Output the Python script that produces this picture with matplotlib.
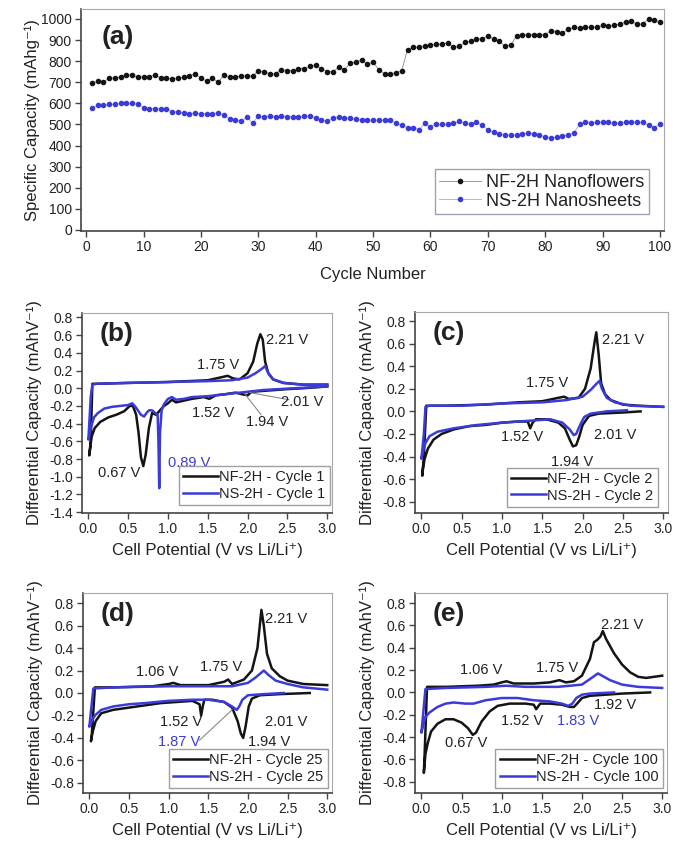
import matplotlib
matplotlib.use('Agg')
import matplotlib.pyplot as plt
from matplotlib.ticker import MultipleLocator, FormatStrFormatter

plt.rcParams['font.family'] = ['Liberation Sans', 'DejaVu Sans']
plt.rcParams['axes.unicode_minus'] = False

# ---- panel (a): cycling data ----
cycles = list(range(1, 101))
nf_cap = [695, 705, 700, 720, 720, 725, 735, 735, 725, 725,
          725, 735, 720, 720, 715, 720, 725, 730, 740, 720,
          705, 720, 700, 735, 725, 725, 730, 730, 730, 755,
          750, 740, 740, 760, 755, 755, 765, 765, 775, 780,
          765, 750, 750, 770, 760, 790, 795, 805, 785, 795,
          760, 740, 740, 745, 755, 855, 865, 865, 870, 875,
          880, 880, 885, 865, 870, 890, 895, 905, 905, 920,
          905, 895, 870, 875, 920, 925, 925, 925, 925, 925,
          945, 940, 935, 950, 960, 955, 960, 960, 960, 970,
          965, 970, 975, 985, 990, 975, 975, 1000, 995, 985]
ns_cap = [580, 590, 590, 595, 595, 600, 600, 600, 595, 580,
          575, 575, 575, 575, 560, 560, 555, 550, 555, 550,
          550, 550, 555, 545, 525, 520, 515, 535, 505, 540,
          535, 540, 535, 540, 535, 535, 535, 540, 540, 530,
          520, 515, 530, 535, 530, 530, 525, 520, 520, 520,
          520, 520, 520, 505, 495, 485, 485, 475, 505, 490,
          500, 500, 500, 505, 515, 505, 500, 510, 495, 475,
          465, 455, 450, 450, 450, 455, 460, 455, 450, 440,
          435, 440, 445, 450, 460, 500, 510, 505, 510, 510,
          510, 505, 505, 510, 510, 510, 510, 495, 485, 500]

# ---- panel (b): cycle 1 ----
b_nf_v = [3.00, 2.70, 2.50, 2.20, 2.05, 2.00, 1.94, 1.85, 1.70, 1.60, 1.52, 1.45,
          1.30, 1.20, 1.10, 1.05, 1.00, 0.95, 0.90, 0.85, 0.80, 0.76, 0.72, 0.69,
          0.66, 0.63, 0.60, 0.56, 0.52, 0.45, 0.35, 0.25, 0.15, 0.08, 0.04, 0.02,
          0.01, 0.03, 0.05, 0.10, 0.50, 1.00, 1.50, 1.70, 1.75, 1.82, 1.90, 2.00,
          2.07, 2.12, 2.16, 2.19, 2.22, 2.26, 2.32, 2.45, 2.70, 3.00]
b_nf_q = [0.02, 0.00, -0.01, -0.03, -0.04, -0.08, -0.07, -0.05, -0.07, -0.08, -0.12, -0.10,
          -0.12, -0.14, -0.16, -0.13, -0.17, -0.20, -0.25, -0.30, -0.28, -0.45, -0.75, -0.88,
          -0.78, -0.50, -0.30, -0.20, -0.20, -0.26, -0.30, -0.33, -0.38, -0.45, -0.55, -0.70,
          -0.76, -0.60, 0.05, 0.05, 0.06, 0.07, 0.09, 0.13, 0.14, 0.11, 0.10, 0.17,
          0.30, 0.50, 0.61, 0.55, 0.30, 0.17, 0.10, 0.06, 0.04, 0.04]
b_ns_v = [3.00, 2.60, 2.20, 2.00, 1.80, 1.50, 1.30, 1.20, 1.10, 1.05, 1.00, 0.95,
          0.92, 0.90, 0.89, 0.88, 0.87, 0.84, 0.80, 0.76, 0.73, 0.70, 0.66, 0.60,
          0.55, 0.50, 0.40, 0.30, 0.20, 0.12, 0.07, 0.03, 0.01, 0.00, 0.03, 0.05,
          0.10, 0.50, 1.00, 1.50, 1.80, 2.00, 2.10, 2.18, 2.22, 2.26, 2.32, 2.45,
          2.70, 3.00]
b_ns_q = [0.02, 0.00, -0.02, -0.04, -0.06, -0.09, -0.10, -0.12, -0.13, -0.10, -0.12, -0.18,
          -0.25, -0.50, -1.13, -0.60, -0.30, -0.28, -0.25, -0.25, -0.28, -0.32, -0.30, -0.22,
          -0.17, -0.19, -0.20, -0.21, -0.23, -0.28, -0.33, -0.45, -0.55, -0.58, -0.10, 0.04,
          0.05, 0.06, 0.07, 0.08, 0.09, 0.12, 0.17, 0.22, 0.25, 0.17, 0.10, 0.06,
          0.04, 0.04]

# ---- panel (c): cycle 2 ----
c_nf_v = [2.72, 2.50, 2.20, 2.08, 2.03, 2.00, 1.96, 1.92, 1.88, 1.84, 1.78, 1.70,
          1.55, 1.42, 1.38, 1.35, 1.32, 1.20, 1.00, 0.80, 0.60, 0.40, 0.25, 0.15,
          0.08, 0.04, 0.02, 0.01, 0.03, 0.06, 0.30, 0.80, 1.20, 1.50, 1.70, 1.77,
          1.83, 1.95, 2.03, 2.10, 2.15, 2.17, 2.20, 2.23, 2.28, 2.35, 2.50, 2.70,
          3.00]
c_nf_q = [0.00, -0.01, -0.02, -0.04, -0.09, -0.12, -0.22, -0.30, -0.31, -0.25, -0.15, -0.10,
          -0.07, -0.07, -0.10, -0.15, -0.09, -0.09, -0.10, -0.12, -0.13, -0.16, -0.20, -0.25,
          -0.33, -0.42, -0.50, -0.57, -0.40, 0.05, 0.05, 0.06, 0.08, 0.09, 0.12, 0.13,
          0.11, 0.12, 0.20, 0.38, 0.62, 0.70, 0.50, 0.25, 0.15, 0.10, 0.06, 0.05,
          0.04]
c_ns_v = [2.55, 2.30, 2.10, 2.02, 1.97, 1.92, 1.89, 1.84, 1.75, 1.60, 1.40, 1.20,
          1.00, 0.70, 0.40, 0.20, 0.10, 0.05, 0.02, 0.00, 0.03, 0.05, 0.10, 0.50,
          1.00, 1.50, 1.80, 2.00, 2.10, 2.18, 2.21, 2.24, 2.30, 2.40, 2.60, 3.00]
c_ns_q = [0.01, 0.00, -0.02, -0.05, -0.12, -0.20, -0.21, -0.16, -0.10, -0.07, -0.08, -0.09,
          -0.10, -0.12, -0.15, -0.18, -0.22, -0.28, -0.35, -0.42, -0.20, 0.04, 0.05, 0.05,
          0.07, 0.08, 0.10, 0.13, 0.19, 0.25, 0.27, 0.20, 0.12, 0.08, 0.05, 0.04]

# ---- panel (d): cycle 25 ----
d_nf_v = [2.78, 2.40, 2.15, 2.05, 2.01, 1.97, 1.94, 1.91, 1.87, 1.80, 1.70, 1.55,
          1.45, 1.43, 1.41, 1.39, 1.30, 1.10, 0.90, 0.70, 0.50, 0.30, 0.15, 0.08,
          0.04, 0.02, 0.03, 0.07, 0.30, 0.80, 1.00, 1.06, 1.15, 1.50, 1.70, 1.75,
          1.80, 1.95, 2.05, 2.12, 2.17, 2.20, 2.24, 2.30, 2.40, 2.50, 2.70, 3.00]
d_nf_q = [0.00, -0.01, -0.02, -0.05, -0.12, -0.30, -0.40, -0.36, -0.25, -0.13, -0.08, -0.06,
          -0.06, -0.12, -0.20, -0.10, -0.07, -0.08, -0.09, -0.11, -0.13, -0.15, -0.18, -0.25,
          -0.35, -0.43, -0.38, 0.05, 0.05, 0.06, 0.08, 0.09, 0.07, 0.07, 0.10, 0.12,
          0.08, 0.12, 0.20, 0.40, 0.74, 0.60, 0.35, 0.22, 0.15, 0.11, 0.08, 0.07]
d_ns_v = [2.45, 2.20, 2.00, 1.93, 1.89, 1.86, 1.80, 1.70, 1.50, 1.30, 1.00, 0.70,
          0.50, 0.30, 0.15, 0.07, 0.03, 0.00, 0.05, 0.30, 1.00, 1.50, 1.80, 2.00,
          2.10, 2.20, 2.26, 2.35, 2.50, 2.70, 3.00]
d_ns_q = [0.00, -0.01, -0.02, -0.06, -0.12, -0.15, -0.12, -0.08, -0.06, -0.06, -0.07, -0.09,
          -0.10, -0.12, -0.15, -0.20, -0.25, -0.30, 0.04, 0.05, 0.06, 0.06, 0.06, 0.09,
          0.14, 0.20, 0.16, 0.11, 0.08, 0.05, 0.03]

# ---- panel (e): cycle 100 ----
e_nf_v = [2.85, 2.50, 2.10, 2.00, 1.94, 1.90, 1.85, 1.75, 1.60, 1.48, 1.45, 1.43,
          1.40, 1.30, 1.10, 0.95, 0.85, 0.75, 0.68, 0.64, 0.58, 0.50, 0.40, 0.30,
          0.20, 0.12, 0.08, 0.05, 0.03, 0.04, 0.07, 0.30, 0.70, 0.90, 1.00, 1.06,
          1.15, 1.40, 1.60, 1.72, 1.80, 1.90, 2.00, 2.10, 2.15, 2.19, 2.23, 2.26,
          2.30, 2.40, 2.50, 2.60, 2.70, 2.80, 2.90, 3.00]
e_nf_q = [0.00, -0.01, -0.03, -0.05, -0.10, -0.13, -0.13, -0.11, -0.10, -0.10, -0.13, -0.15,
          -0.11, -0.10, -0.10, -0.12, -0.17, -0.26, -0.36, -0.38, -0.32, -0.27, -0.24, -0.24,
          -0.28, -0.35, -0.45, -0.55, -0.72, -0.55, 0.05, 0.05, 0.06, 0.07, 0.09, 0.10,
          0.08, 0.08, 0.09, 0.11, 0.09, 0.10, 0.15, 0.30, 0.45, 0.47, 0.50, 0.55,
          0.48, 0.35, 0.25, 0.18, 0.14, 0.13, 0.14, 0.15]
e_ns_v = [2.40, 2.10, 2.00, 1.93, 1.88, 1.83, 1.75, 1.60, 1.40, 1.20, 1.00, 0.80,
          0.65, 0.55, 0.40, 0.30, 0.20, 0.10, 0.05, 0.02, 0.00, 0.05, 0.30, 0.80,
          1.06, 1.30, 1.70, 2.00, 2.10, 2.20, 2.25, 2.35, 2.50, 2.70, 3.00]
e_ns_q = [0.00, -0.01, -0.02, -0.05, -0.10, -0.12, -0.10, -0.08, -0.07, -0.05, -0.05, -0.07,
          -0.10, -0.10, -0.09, -0.10, -0.13, -0.18, -0.22, -0.30, -0.36, 0.03, 0.04, 0.05,
          0.06, 0.05, 0.05, 0.07, 0.12, 0.17, 0.15, 0.11, 0.07, 0.05, 0.04]

BLACK = '#141414'
BLUE = '#3b3bd9'
TXT = '#222222'


def style_axes(ax):
    for side in ['top', 'right']:
        ax.spines[side].set_color('#a8a8a8')
    for side in ['left', 'bottom']:
        ax.spines[side].set_color('#444444')
        ax.spines[side].set_linewidth(1.2)
    ax.tick_params(direction='out', length=4, width=1, colors='#444444',
                   labelcolor=TXT, labelsize=10, top=False, right=False, pad=2.5)


fig = plt.figure(figsize=(6.91, 8.61), dpi=100)

# panel (a)
ax = fig.add_axes([81/691, 1-231/861, 583/691, 222/861])
ax.plot(cycles, nf_cap, color='#8a8a8a', lw=0.6, marker='o', ms=3.0,
        mfc=BLACK, mec=BLACK, label='NF-2H Nanoflowers')
ax.plot(cycles, ns_cap, color='#a8a8d8', lw=0.6, marker='o', ms=3.0,
        mfc=BLUE, mec=BLUE, label='NS-2H Nanosheets')
ax.set_xlim(-0.9, 100.7)
ax.set_ylim(-5, 1047)
ax.xaxis.set_major_locator(MultipleLocator(10))
ax.yaxis.set_major_locator(MultipleLocator(100))
style_axes(ax)
ax.set_xlabel('Cycle Number', fontsize=12, color=TXT, labelpad=9)
ax.set_ylabel('Specific Capacity (mAhg⁻¹)', fontsize=12, color=TXT, labelpad=1)
ax.text(0.035, 0.93, '(a)', transform=ax.transAxes, fontsize=19,
        fontweight='bold', color=TXT, va='top')
leg = ax.legend(loc='lower right', bbox_to_anchor=(0.99, 0.035), fontsize=13,
                frameon=True, fancybox=False, edgecolor='#8888aa',
                handlelength=2.3, labelspacing=0.1, borderpad=0.25,
                handletextpad=0.3)
leg.get_frame().set_linewidth(1.0)
for t in leg.get_texts():
    t.set_color(TXT)


def cv_panel(rect, ylo, yticklo, nf_v, nf_q, ns_v, ns_q, letter, cyc, notes,
             leaders, leg_anchor):
    ax = fig.add_axes(rect)
    ax.plot(nf_v, nf_q, color=BLACK, lw=1.8, label='NF-2H - Cycle ' + cyc)
    ax.plot(ns_v, ns_q, color=BLUE, lw=1.8, label='NS-2H - Cycle ' + cyc)
    ax.set_xlim(-0.08, 3.06)
    ax.set_ylim(ylo[0], ylo[1])
    ax.xaxis.set_major_locator(MultipleLocator(0.5))
    ax.xaxis.set_major_formatter(FormatStrFormatter('%.1f'))
    ax.yaxis.set_major_formatter(FormatStrFormatter('%.1f'))
    ax.set_yticks([v / 10 for v in range(yticklo, 9, 2)])
    style_axes(ax)
    ax.set_xlabel('Cell Potential (V vs Li/Li⁺)', fontsize=12, color=TXT,
                  labelpad=5)
    ax.set_ylabel('Differential Capacity (mAhV⁻¹)', fontsize=12, color=TXT,
                  labelpad=5)
    ax.text(0.07, 0.955, '(' + letter + ')', transform=ax.transAxes, fontsize=19,
            fontweight='bold', color=TXT, va='top')
    for (x0, y0, x1, y1) in leaders:
        ax.plot([x0, x1], [y0, y1], color='#8a8a8a', lw=0.8)
    for (tx, ty, s, c) in notes:
        ax.text(tx, ty, s, fontsize=10.5, color=c, ha='center', va='center')
    leg = ax.legend(loc='lower right', bbox_to_anchor=leg_anchor, fontsize=10.5,
                    frameon=True, fancybox=False, edgecolor='#888888',
                    handlelength=2.4, labelspacing=0.15, borderpad=0.3,
                    handletextpad=0.1, borderaxespad=0)
    leg.get_frame().set_linewidth(1.0)
    for t in leg.get_texts():
        t.set_color(TXT)
    return ax


cv_panel([82/691, 1-513/861, 250/691, 200/861], (-1.41, 0.85), -14,
         b_nf_v, b_nf_q, b_ns_v, b_ns_q, 'b', '1',
         [(2.5, 0.54, '2.21 V', TXT), (1.63, 0.26, '1.75 V', TXT),
          (2.69, -0.16, '2.01 V', TXT), (1.57, -0.28, '1.52 V', TXT),
          (2.24, -0.38, '1.94 V', TXT), (0.39, -0.96, '0.67 V', TXT),
          (1.26, -0.85, '0.89 V', BLUE)],
         [(2.03, -0.05, 2.52, -0.13), (1.97, -0.07, 2.17, -0.30)],
         (0.992, 0.04))

cv_panel([415/691, 1-513/861, 253/691, 201/861], (-0.9, 0.88), -8,
         c_nf_v, c_nf_q, c_ns_v, c_ns_q, 'c', '2',
         [(2.5, 0.63, '2.21 V', TXT), (1.56, 0.25, '1.75 V', TXT),
          (1.25, -0.23, '1.52 V', TXT), (2.4, -0.21, '2.01 V', TXT),
          (1.87, -0.45, '1.94 V', TXT)],
         [], (0.96, 0.03))

cv_panel([83/691, 1-793/861, 249/691, 200/861], (-0.89, 0.89), -8,
         d_nf_v, d_nf_q, d_ns_v, d_ns_q, 'd', '25',
         [(2.48, 0.66, '2.21 V', TXT), (0.86, 0.19, '1.06 V', TXT),
          (1.66, 0.23, '1.75 V', TXT), (1.16, -0.26, '1.52 V', TXT),
          (2.48, -0.26, '2.01 V', TXT), (2.27, -0.44, '1.94 V', TXT),
          (1.13, -0.44, '1.87 V', BLUE)],
         [(1.39, -0.42, 1.80, -0.15)], (0.984, 0.025))

cv_panel([415/691, 1-793/861, 252/691, 200/861], (-0.9, 0.89), -8,
         e_nf_v, e_nf_q, e_ns_v, e_ns_q, 'e', '100',
         [(2.5, 0.6, '2.21 V', TXT), (0.75, 0.2, '1.06 V', TXT),
          (1.69, 0.22, '1.75 V', TXT), (2.41, -0.11, '1.92 V', TXT),
          (1.26, -0.26, '1.52 V', TXT), (1.95, -0.26, '1.83 V', BLUE),
          (0.56, -0.45, '0.67 V', TXT)],
         [], (0.984, 0.025))

fig.savefig('out.png', dpi=100)
